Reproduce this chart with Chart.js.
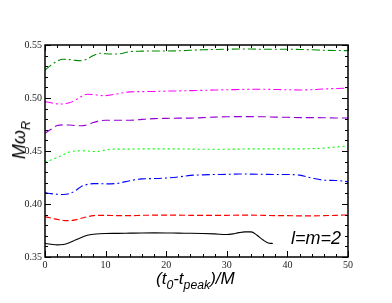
<!DOCTYPE html>
<html>
<head>
<meta charset="utf-8">
<script src="https://cdn.jsdelivr.net/npm/chart.js@4/dist/chart.umd.min.js"></script>
<style>
  html, body { margin: 0; padding: 0; background: #fff; }
  #wrap { position: relative; width: 392px; height: 303px; }
  #chart { position: absolute; left: 0; top: 0; }
  .lbl { position: absolute; font-family: "Liberation Sans", Arial, sans-serif; font-style: italic; color: #000; white-space: nowrap; }
  .lbl sub { font-size: 0.72em; vertical-align: -0.4em; }
  #ytitle { left: 2px; top: 140px; font-size: 18px; transform: translate(0, -50%) rotate(-90deg); transform-origin: center; }
  #xtitle { left: 156px; top: 269px; font-size: 17px; }
  #note { left: 291px; top: 228px; font-size: 18px; }
</style>
</head>
<body>
<div id="wrap">
  <canvas id="chart" width="392" height="303"></canvas>
  <div class="lbl" id="ytitle">M&omega;<sub>R</sub></div>
  <div class="lbl" id="xtitle">(t<sub>0</sub>-t<sub>peak</sub>)/M</div>
  <div class="lbl" id="note">l=m=2</div>
</div>
<script>
let xs = [0, 1, 2, 3, 4, 5, 6, 7, 8, 9, 10, 12, 14, 16, 18, 20, 22, 24, 26, 28, 30, 32, 34, 36, 38, 40, 42, 44, 46, 48, 50];

let darkGreen = [0.5264, 0.5310, 0.5348, 0.5365, 0.5362, 0.5355, 0.5352, 0.5370, 0.5400, 0.5422, 0.5418, 0.5415, 0.5437, 0.5442, 0.5443, 0.5443, 0.5445, 0.5450, 0.5455, 0.5458, 0.5460, 0.5462, 0.5462, 0.5460, 0.5460, 0.5460, 0.5458, 0.5455, 0.5450, 0.5448, 0.5447];
let magenta = [0.4966, 0.4955, 0.4945, 0.4944, 0.4955, 0.4980, 0.5015, 0.5035, 0.5033, 0.5025, 0.5022, 0.5040, 0.5058, 0.5060, 0.5062, 0.5065, 0.5067, 0.5070, 0.5072, 0.5075, 0.5078, 0.5080, 0.5082, 0.5082, 0.5080, 0.5078, 0.5076, 0.5078, 0.5085, 0.5090, 0.5092];
let violet = [0.4667, 0.4705, 0.4740, 0.4746, 0.4745, 0.4740, 0.4738, 0.4748, 0.4768, 0.4785, 0.4790, 0.4790, 0.4790, 0.4798, 0.4805, 0.4808, 0.4810, 0.4810, 0.4815, 0.4820, 0.4823, 0.4824, 0.4824, 0.4823, 0.4820, 0.4818, 0.4815, 0.4815, 0.4814, 0.4812, 0.4812];
let lightGreen = [0.4394, 0.4415, 0.4437, 0.4465, 0.4490, 0.4500, 0.4502, 0.4500, 0.4495, 0.4498, 0.4510, 0.4518, 0.4518, 0.4520, 0.4520, 0.4520, 0.4520, 0.4518, 0.4517, 0.4517, 0.4517, 0.4518, 0.4520, 0.4520, 0.4520, 0.4520, 0.4520, 0.4522, 0.4527, 0.4538, 0.4547];
let blue = [0.4107, 0.4098, 0.4092, 0.4090, 0.4097, 0.4125, 0.4165, 0.4185, 0.4192, 0.4192, 0.4190, 0.4195, 0.4220, 0.4237, 0.4240, 0.4245, 0.4255, 0.4270, 0.4275, 0.4278, 0.4280, 0.4283, 0.4282, 0.4280, 0.4278, 0.4278, 0.4272, 0.4245, 0.4225, 0.4222, 0.4211];
let red = [0.3880, 0.3868, 0.3855, 0.3845, 0.3843, 0.3850, 0.3865, 0.3880, 0.3890, 0.3893, 0.3893, 0.3890, 0.3890, 0.3893, 0.3895, 0.3895, 0.3895, 0.3893, 0.3893, 0.3893, 0.3893, 0.3895, 0.3895, 0.3893, 0.3890, 0.3890, 0.3888, 0.3888, 0.3890, 0.3893, 0.3897];

// the black curve stops before t=40
let blackX = [0, 1, 2, 3, 4, 5, 6, 7, 8, 9, 10, 12, 14, 16, 18, 20, 22, 24, 26, 28, 30, 31, 32, 33, 34, 35, 36, 37, 37.6];
let black = [0.3627, 0.3620, 0.3614, 0.3618, 0.3635, 0.3660, 0.3685, 0.3705, 0.3715, 0.3720, 0.3722, 0.3723, 0.3725, 0.3727, 0.3728, 0.3727, 0.3725, 0.3724, 0.3722, 0.3718, 0.3712, 0.3718, 0.3730, 0.3737, 0.3737, 0.3705, 0.3660, 0.3630, 0.3628];

let xTicks = [0, 10, 20, 30, 40, 50];
let yTicks = [0.35, 0.40, 0.45, 0.50, 0.55];

function pts(xv, yv) {
    return yv.map((v, i) => ({ x: xv[i], y: v }));
}

function series(xv, yv, color, dash) {
    return {
        data: pts(xv, yv),
        borderColor: color,
        borderWidth: 1.1,
        borderDash: dash,
        pointRadius: 0,
        fill: false,
        cubicInterpolationMode: 'monotone'
    };
}

// frame and inward ticks on all four sides
let framePlugin = {
    id: 'frame',
    afterDraw(chart) {
        let ctx = chart.ctx;
        let a = chart.chartArea;
        let sx = chart.scales.x;
        let sy = chart.scales.y;
        ctx.save();
        ctx.strokeStyle = '#000';
        ctx.lineWidth = 1;
        for (let v = 0; v <= 50; v += 2) {
            let px = Math.round(sx.getPixelForValue(v)) + 0.5;
            let len = v % 10 === 0 ? 6 : 3;
            ctx.beginPath();
            ctx.moveTo(px, a.bottom); ctx.lineTo(px, a.bottom - len);
            ctx.moveTo(px, a.top); ctx.lineTo(px, a.top + len);
            ctx.stroke();
        }
        for (let i = 0; i <= 20; i++) {
            let v = 0.35 + i * 0.01;
            let py = Math.round(sy.getPixelForValue(v)) + 0.5;
            let len = i % 5 === 0 ? 6 : 3;
            ctx.beginPath();
            ctx.moveTo(a.left, py); ctx.lineTo(a.left + len, py);
            ctx.moveTo(a.right, py); ctx.lineTo(a.right - len, py);
            ctx.stroke();
        }
        ctx.lineWidth = 1.5;
        ctx.strokeRect(a.left, a.top, a.right - a.left, a.bottom - a.top);
        ctx.restore();
    }
};

let tickFont = { family: '"Liberation Serif", "Times New Roman", serif', size: 10 };

new Chart(document.getElementById('chart'), {
    type: 'line',
    data: {
        datasets: [
            series(blackX, black, '#000000', []),
            series(xs, red, '#ff0000', [6, 3]),
            series(xs, blue, '#0000ff', [8, 3, 2, 3]),
            series(xs, lightGreen, '#00ff00', [2, 3]),
            series(xs, violet, '#9400d3', [8, 4]),
            series(xs, magenta, '#ff00ff', [8, 3, 2, 3, 2, 3]),
            series(xs, darkGreen, '#008b00', [8, 3, 2, 3])
        ]
    },
    options: {
        responsive: false,
        animation: false,
        devicePixelRatio: 1,
        layout: { padding: { top: 45, right: 44, left: 0, bottom: 0 } },
        plugins: { legend: { display: false }, tooltip: { enabled: false } },
        scales: {
            x: {
                type: 'linear',
                min: 0,
                max: 50,
                grid: { display: false, drawTicks: false },
                border: { display: false },
                afterFit: s => { s.height = 46; },
                afterBuildTicks: s => { s.ticks = xTicks.map(v => ({ value: v })); },
                ticks: { font: tickFont, color: '#222', padding: 2, maxRotation: 0, autoSkip: false }
            },
            y: {
                min: 0.35,
                max: 0.55,
                grid: { display: false, drawTicks: false },
                border: { display: false },
                afterFit: s => { s.width = 45; },
                afterBuildTicks: s => { s.ticks = yTicks.map(v => ({ value: v })); },
                ticks: { font: tickFont, color: '#222', padding: 3, callback: v => v.toFixed(2) }
            }
        }
    },
    plugins: [framePlugin]
});
</script>
</body>
</html>
